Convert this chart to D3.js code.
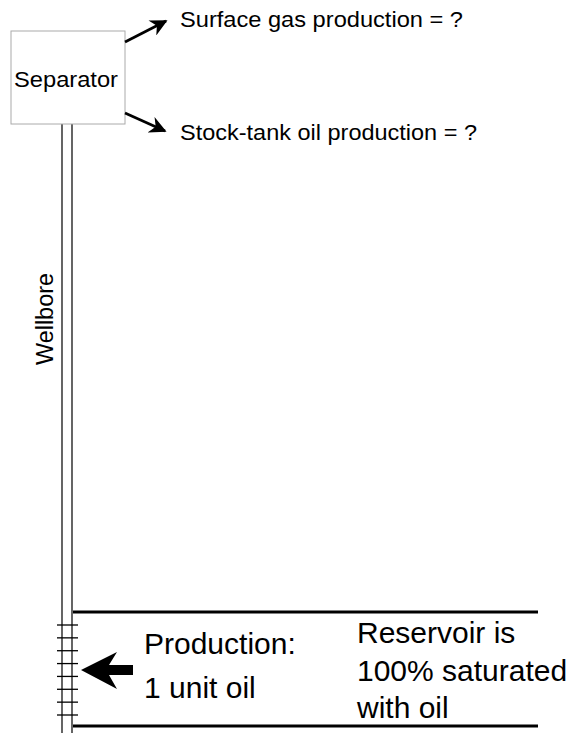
<!DOCTYPE html>
<html>
<head>
<meta charset="utf-8">
<script src="https://cdn.jsdelivr.net/npm/d3@7"></script>
<style>
	body { margin: 0; background: #fff; }
	text { font-family: "Liberation Sans", Arial, Helvetica, sans-serif; fill: #000; }
</style>
</head>
<body>
<div id="chart"></div>
<script>
// diagram content
var outputLabels = ['Surface gas production = ?', 'Stock-tank oil production = ?'];
var separatorLabel = 'Separator';
var wellLabel = 'Wellbore';
var productionLines = ['Production:', '1 unit oil'];
var reservoirLines = ['Reservoir is', '100% saturated', 'with oil'];
var perforations = [1, 2, 3, 4, 5, 6, 7, 8];

var width = 573, height = 733;

var svg = d3.select('#chart')
	.append('svg')
	.attr('width', width)
	.attr('height', height);

svg.append('defs')
	.append('marker')
	.attr('id', 'head')
	.attr('viewBox', '0 0 10 10')
	.attr('refX', 9)
	.attr('refY', 5)
	.attr('markerWidth', 19)
	.attr('markerHeight', 17)
	.attr('markerUnits', 'userSpaceOnUse')
	.attr('orient', 'auto')
	.append('path')
	.attr('d', 'M 0 0 L 10 5 L 0 10 L 3 5 z')
	.attr('fill', '#000');

// wellbore pipe
var pipeX = [62, 72];
svg.append('g')
	.selectAll('line')
	.data(pipeX)
	.enter()
	.append('line')
	.attr('x1', function (d) { return d; })
	.attr('x2', function (d) { return d; })
	.attr('y1', 124)
	.attr('y2', height)
	.attr('stroke', '#555')
	.attr('stroke-width', 1.8);

// separator box
svg.append('rect')
	.attr('x', 11)
	.attr('y', 31)
	.attr('width', 114)
	.attr('height', 93)
	.attr('fill', '#fff')
	.attr('stroke', '#aaa')
	.attr('stroke-width', 1);

svg.append('text')
	.attr('x', 14)
	.attr('y', 87)
	.attr('font-size', 22.5)
	.attr('textLength', 104)
	.attr('lengthAdjust', 'spacingAndGlyphs')
	.text(separatorLabel);

// output arrows
var arrows = [
	{ x1: 125, y1: 42, x2: 166, y2: 21 },
	{ x1: 125, y1: 113, x2: 165, y2: 131 }
];
svg.append('g')
	.selectAll('line')
	.data(arrows)
	.enter()
	.append('line')
	.attr('x1', function (d) { return d.x1; })
	.attr('y1', function (d) { return d.y1; })
	.attr('x2', function (d) { return d.x2; })
	.attr('y2', function (d) { return d.y2; })
	.attr('stroke', '#000')
	.attr('stroke-width', 2.7)
	.attr('marker-end', 'url(#head)');

var outPos = [{ y: 27, len: 283 }, { y: 140, len: 297 }];
svg.append('g')
	.selectAll('text')
	.data(outputLabels)
	.enter()
	.append('text')
	.attr('x', 180)
	.attr('y', function (d, i) { return outPos[i].y; })
	.attr('font-size', 22)
	.attr('textLength', function (d, i) { return outPos[i].len; })
	.attr('lengthAdjust', 'spacingAndGlyphs')
	.text(function (d) { return d; });

// wellbore label
svg.append('text')
	.attr('transform', 'translate(53,319) rotate(-90)')
	.attr('text-anchor', 'middle')
	.attr('font-size', 23)
	.attr('textLength', 92)
	.attr('lengthAdjust', 'spacingAndGlyphs')
	.text(wellLabel);

// reservoir boundaries
svg.append('g')
	.selectAll('line')
	.data([612, 726])
	.enter()
	.append('line')
	.attr('x1', 73)
	.attr('x2', 538)
	.attr('y1', function (d) { return d; })
	.attr('y2', function (d) { return d; })
	.attr('stroke', '#000')
	.attr('stroke-width', 3);

// perforations
var perfY = d3.scalePoint()
	.domain(perforations)
	.range([625, 715]);
svg.append('g')
	.selectAll('line')
	.data(perforations)
	.enter()
	.append('line')
	.attr('x1', 57)
	.attr('x2', 78)
	.attr('y1', function (d) { return perfY(d); })
	.attr('y2', function (d) { return perfY(d); })
	.attr('stroke', '#000')
	.attr('stroke-width', 1.3);

// inflow arrow
svg.append('path')
	.attr('d', 'M 81 670 L 117 652 L 109 665 L 133 665 L 133 675 L 109 675 L 117 689 Z')
	.attr('fill', '#000');

svg.append('g')
	.selectAll('text')
	.data(productionLines)
	.enter()
	.append('text')
	.attr('x', 144)
	.attr('y', function (d, i) { return 654 + i * 44; })
	.attr('font-size', 30)
	.text(function (d) { return d; });

svg.append('g')
	.selectAll('text')
	.data(reservoirLines)
	.enter()
	.append('text')
	.attr('x', 357)
	.attr('y', function (d, i) { return 643 + i * 37.7; })
	.attr('font-size', 30)
	.text(function (d) { return d; });
</script>
</body>
</html>
